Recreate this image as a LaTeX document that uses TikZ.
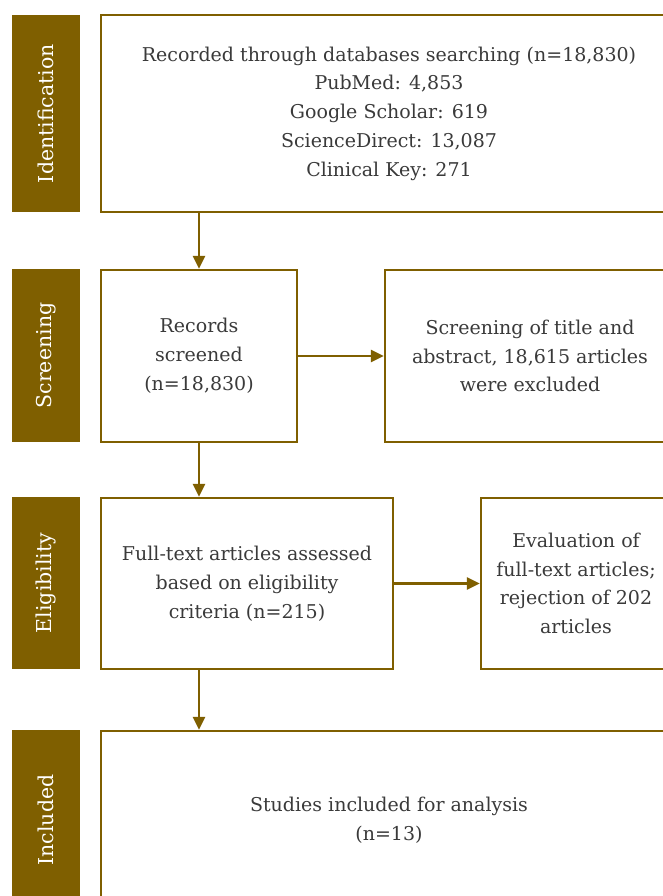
\documentclass[tikz,border=0pt]{standalone}
\usepackage{fontspec}
\setmainfont{DejaVu Serif}
\usetikzlibrary{arrows.meta,positioning}
\definecolor{prismabrown}{HTML}{7F5F00}
\definecolor{prismatext}{HTML}{3A3A3A}

\begin{document}
\begin{tikzpicture}[x=1pt,y=-1pt,
    phase/.style={fill=prismabrown, text=white, rotate=90, minimum height=68pt, inner sep=0pt, font=\fontsize{20.5}{24}\selectfont},
    box/.style={draw=prismabrown, line width=2.4pt, fill=white, text=prismatext, align=center, inner sep=0pt, font=\fontsize{19}{28.8}\selectfont},
    flow/.style={draw=prismabrown, line width=2.4pt, -{Triangle[width=12pt,length=13pt]}}]
    \clip (0,0) rectangle (663,896);

    % phase bars
    \node[phase, minimum width=197pt] (identbar) at (46,113.5) {Identification};
    \node[phase, minimum width=173pt] (screenbar) at (46,355.5) {Screening};
    \node[phase, minimum width=172pt] (eligbar) at (46,583) {Eligibility};
    \node[phase, minimum width=180pt] (inclbar) at (46,820) {Included};

    % boxes
    \node[box, minimum width=576pt, minimum height=197pt] (search) at (389,113.5)
        {Recorded through databases searching (n=18,830)\\PubMed: 4,853\\Google Scholar: 619\\ScienceDirect: 13,087\\Clinical Key: 271};
    \node[box, minimum width=196pt, minimum height=172pt] (records) at (199,356)
        {Records\\screened\\(n=18,830)};
    \node[box, minimum width=290pt, minimum height=172pt] (excluded) at (530,356)
        {Screening of title and\\abstract, 18,615 articles\\were excluded};
    \node[box, minimum width=292pt, minimum height=171pt] (assessed) at (247,583.5)
        {Full-text articles assessed\\based on eligibility\\criteria (n=215)};
    \node[box, minimum width=190pt, minimum height=171pt] (rejected) at (576,583.5)
        {Evaluation of\\full-text articles;\\rejection of 202\\articles};
    \node[box, minimum width=576pt, minimum height=178pt] (included) at (389,820)
        {Studies included for analysis\\(n=13)};

    % arrows
    \draw[flow] (records.north |- search.south) -- (records.north);
    \draw[flow] (records.south) -- (records.south |- assessed.north);
    \draw[flow] (records.south |- assessed.south) -- (records.south |- included.north);
    \draw[flow] (records.east) -- (excluded.west);
    \draw[flow] (assessed.east) -- (rejected.west);

\end{tikzpicture}
\end{document}
